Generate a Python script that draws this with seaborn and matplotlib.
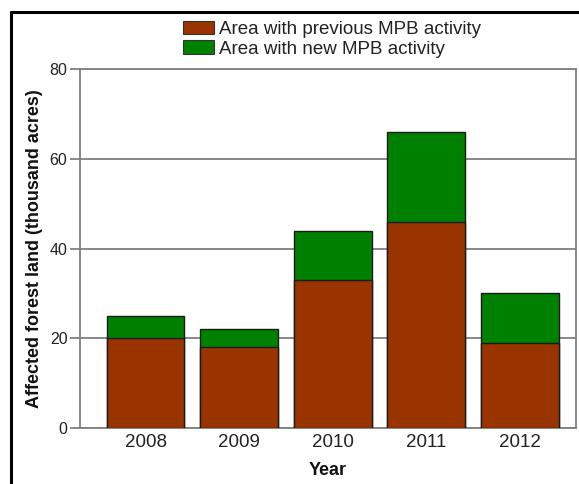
import matplotlib
matplotlib.use("Agg")
import matplotlib.pyplot as plt
from matplotlib.patches import Patch
from matplotlib.lines import Line2D
import seaborn as sns
import pandas as pd

years = ["2008", "2009", "2010", "2011", "2012"]
previous_activity = [20, 18, 33, 46, 19]
new_activity = [5, 4, 11, 20, 11]
y_ticks = [0, 20, 40, 60, 80]

sns.set_theme(style="white")
plt.rcParams["font.family"] = ["Liberation Sans", "DejaVu Sans"]

df = pd.DataFrame({
    "Year": years,
    "previous": previous_activity,
    "total": [p + n for p, n in zip(previous_activity, new_activity)],
})

brown = "#993300"
green = "#008000"
grey = "#7f7f7f"

fig = plt.figure(figsize=(5.79, 4.84), dpi=100)
ax = fig.add_axes([80 / 579, 1 - 428 / 484, (576 - 80) / 579, (428 - 69) / 484])

# stacked bars: full height in green, previous-activity portion in brown on top
sns.barplot(data=df, x="Year", y="total", order=years, color=green, width=0.83,
            edgecolor="#1a1a1a", linewidth=1.0, saturation=1, ax=ax, zorder=3)
sns.barplot(data=df, x="Year", y="previous", order=years, color=brown, width=0.83,
            edgecolor="#1a1a1a", linewidth=1.0, saturation=1, ax=ax, zorder=3)

ax.set_xlim(-0.70, 4.60)
ax.set_ylim(0, 80)
ax.set_yticks(y_ticks)
ax.set_yticklabels([str(t) for t in y_ticks])
ax.yaxis.grid(True, color=grey, linewidth=1.3, zorder=0)
ax.set_axisbelow(True)

for s in ax.spines.values():
    s.set_visible(True)
    s.set_color(grey)
    s.set_linewidth(1.3)

ax.tick_params(axis="y", length=7, width=1.3, color=grey, labelsize=11.5,
               labelcolor="#222222", pad=2, direction="out", left=True)
ax.tick_params(axis="x", length=0, labelsize=13.5, labelcolor="#222222", pad=4)

ax.set_xlabel("Year", fontsize=13, fontweight="bold", color="#111111", labelpad=8)
ax.set_ylabel("Affected forest land (thousand acres)", fontsize=13,
              fontweight="bold", color="#111111", labelpad=5)

handles = [
    Patch(facecolor=brown, edgecolor="#333333", linewidth=0.8, label="Area with previous MPB activity"),
    Patch(facecolor=green, edgecolor="#333333", linewidth=0.8, label="Area with new MPB activity"),
]
fig.legend(handles=handles, loc="upper left", bbox_to_anchor=(183 / 579, 1 - 21 / 484),
           frameon=False, fontsize=13.5, handlelength=1.65, handleheight=0.7,
           handletextpad=0.27, labelspacing=0.12, borderpad=0, borderaxespad=0,
           labelcolor="#222222")

# black frame along the top and left of the figure
fig.add_artist(Line2D([10.5 / 579, 1.0], [1 - 12 / 484, 1 - 12 / 484],
                      transform=fig.transFigure, color="black", linewidth=2.2))
fig.add_artist(Line2D([10.5 / 579, 10.5 / 579], [0, 1 - 12 / 484],
                      transform=fig.transFigure, color="black", linewidth=2.2))

fig.savefig("out.png", dpi=100, facecolor="white")
